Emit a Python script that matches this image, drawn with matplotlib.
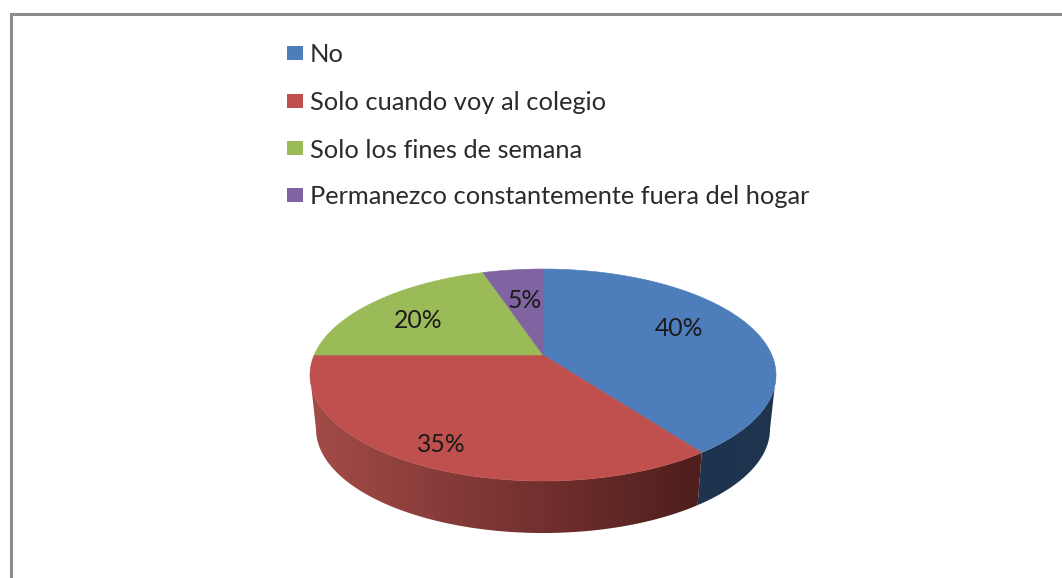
import numpy as np
import matplotlib
matplotlib.use("Agg")
import matplotlib.pyplot as plt
from matplotlib.colors import LinearSegmentedColormap
from matplotlib.patches import Polygon, Rectangle

categorias = ["No", "Solo cuando voy al colegio", "Solo los fines de semana",
              "Permanezco constantemente fuera del hogar"]
valores = [40, 35, 20, 5]
colores = ["#4D7EBB", "#C0504D", "#9BBB59", "#8064A2"]

plt.rcParams['font.family'] = ['Lato', 'DejaVu Sans']

# Geometria da pizza em pixels da imagem
cx, cy, rx, ry = 543, 375, 233, 106
cy_base, rx_base, ry_base = 429, 227, 104
k = 20 / 106  # deslocamento do centro por causa da perspectiva


def disco(frac):
    # fracao da volta (sentido horario a partir do topo) -> disco em perspectiva
    ang = 2 * np.pi * np.asarray(frac)
    u, v = np.sin(ang), np.cos(ang)
    den = 1 + k * v
    return u * np.sqrt(1 - k ** 2) / den, (v + k) / den


def borda(frac, base=False):
    u, v = disco(frac)
    if base:
        return np.column_stack([cx + rx_base * u, cy_base - ry_base * v])
    return np.column_stack([cx + rx * u, cy - ry * v])


fig = plt.figure(figsize=(10.62, 5.78), dpi=100)
ax = fig.add_axes([0, 0, 1, 1])
ax.set_axis_off()

limites = np.cumsum([0] + valores) / sum(valores)

# Laterais (so a parte da frente aparece)
grad_vermelho = LinearSegmentedColormap.from_list("v", ["#A34C48", "#7A3432", "#4D1E1C"])
grad_azul = LinearSegmentedColormap.from_list("a", ["#1E344E", "#20344F"])
gradientes = {0: grad_azul, 1: grad_vermelho}
for i, cmap in gradientes.items():
    fr = np.linspace(limites[i], limites[i + 1], 1500)
    fr = fr[disco(fr)[1] <= 0]
    topo = borda(fr)
    base = borda(fr, base=True)
    pts = np.vstack([topo, base[::-1]])
    img = ax.imshow(np.linspace(0, 1, 256).reshape(1, -1), cmap=cmap, aspect='auto',
                    extent=[pts[:, 0].min(), pts[:, 0].max(), pts[:, 1].max(), pts[:, 1].min()],
                    zorder=1)
    img.set_clip_path(Polygon(pts, closed=True, transform=ax.transData))

# Tampa
apice = np.array([[cx, cy - ry * k]])
for i, cor in enumerate(colores):
    fr = np.linspace(limites[i], limites[i + 1], 300)
    ax.add_patch(Polygon(np.vstack([apice, borda(fr)]), closed=True, facecolor=cor,
                         edgecolor=cor, linewidth=0.4, zorder=2))

# Rotulos de porcentagem
pos_rotulos = [(679, 328), (441, 445), (418, 321), (525, 300)]
for v, (x, y) in zip(valores, pos_rotulos):
    ax.text(x, y, f"{v}%", ha="center", va="center", fontsize=17.8, color="#1a1a1a", zorder=3)

# Legenda
linhas_y = [53, 101, 148, 195]
for nome, cor, y in zip(categorias, colores, linhas_y):
    ax.add_patch(Rectangle((287, y - 7), 16, 14, facecolor=cor, edgecolor="none", zorder=3))
    ax.text(310, y + 2, nome, ha="left", va="center", fontsize=18.25, color="#2b2b2b", zorder=3)

# Borda do grafico (cortada pela imagem)
ax.plot([11, 11, 1062], [578, 14, 14], color="#8c8c8c", linewidth=2.2,
        solid_joinstyle="miter", zorder=4)

ax.set_xlim(0, 1062)
ax.set_ylim(578, 0)
fig.savefig("out.png", dpi=100)
